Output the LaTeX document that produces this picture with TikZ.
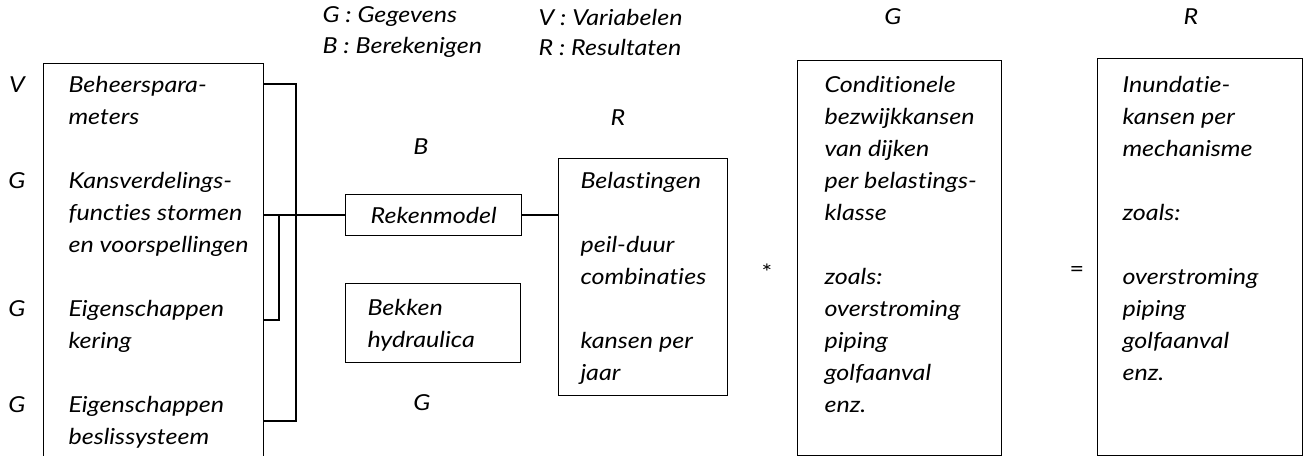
\documentclass[tikz,border=0pt]{standalone}
\usepackage{fontspec}
\setmainfont{Lato}[FakeStretch=1.14, Ligatures=NoCommon]
\tikzset{every picture/.style={line width=0.75pt}}
\tikzset{
  box/.style={draw, line width=1pt, inner sep=0pt, anchor=north west},
  bracket/.style={line width=2pt},
  txt/.style={anchor=north west, inner sep=0pt, align=left, font=\itshape\fontsize{16.5}{24}\selectfont},
  lbl/.style={inner sep=0pt, font=\itshape\fontsize{16.5}{24}\selectfont},
}
\begin{document}
\begin{tikzpicture}[x=0.75pt,y=0.75pt,yscale=-1,xscale=1]
	\useasboundingbox (0,0) rectangle (1304,456);

	% legend
	\node[lbl, anchor=west] (legG) at (322,17) {G : Gegevens};
	\node[lbl, anchor=west] (legB) at (322,47) {B : Berekenigen};
	\node[lbl, anchor=west] (legV) at (538,17) {V : Variabelen};
	\node[lbl, anchor=west] (legR) at (538,47) {R : Resultaten};

	% boxes
	\node[box, minimum width=165pt, minimum height=305.25pt] (params) at (43,63) {};
	\node[box, minimum width=132pt, minimum height=30.75pt, font=\itshape\fontsize{16.5}{24}\selectfont] (rekenmodel) at (345,194) {Rekenmodel};
	\node[box, minimum width=131.25pt, minimum height=59.25pt] (bekken) at (345,283) {};
	\node[box, minimum width=126.75pt, minimum height=177.75pt] (belast) at (558,158) {};
	\node[box, minimum width=153pt, minimum height=296.25pt] (cond) at (797,60) {};
	\node[box, minimum width=153.75pt, minimum height=297.75pt] (inund) at (1097,58) {};

	% box texts
	\node[txt] (tparams) at (68,69.6) {\strut Beheerspara-\\meters\\[24pt]Kansverdelings-\\functies stormen\\en voorspellingen\\[24pt]Eigenschappen\\kering\\[24pt]Eigenschappen\\beslissysteem};
	\node[txt] (tbekken) at (367,292.6) {\strut Bekken\\hydraulica};
	\node[txt] (tbelast) at (580,165.6) {\strut Belastingen\\[24pt]peil-duur\\combinaties\\[24pt]kansen per\\jaar};
	\node[txt] (tcond) at (824,69.6) {\strut Conditionele\\bezwijkkansen\\van dijken\\per belastings-\\klasse\\[24pt]zoals:\\overstroming\\piping\\golfaanval\\enz.};
	\node[txt] (tinund) at (1122,69.6) {\strut Inundatie-\\kansen per\\mechanisme\\[24pt]zoals:\\[24pt]overstroming\\piping\\golfaanval\\enz.};

	% type letters
	\node[lbl] (sV) at (17,85) {V};
	\node[lbl] (sG1) at (17,181) {G};
	\node[lbl] (sG2) at (17,309) {G};
	\node[lbl] (sG3) at (17,405) {G};
	\node[lbl] (sB) at (421,147) {B};
	\node[lbl] (sG4) at (422,403) {G};
	\node[lbl] (sR1) at (618,118) {R};
	\node[lbl] (sG5) at (893,17) {G};
	\node[lbl] (sR2) at (1191,17) {R};
	\node[lbl, font=\fontsize{16.5}{24}\selectfont] (times) at (767,272) {*};
	\node[lbl, font=\fontsize{16.5}{24}\selectfont] (equals) at (1077,272) {=};

	% connections
	\coordinate (bt) at (296,84);
	\coordinate (bb) at (296,421);
	\coordinate (bk) at (279,320);
	\draw[bracket] (params.east |- bt) -- (bt) -- (bb) -- (params.east |- bb);
	\draw[bracket] (params.east |- rekenmodel.west) -- (rekenmodel.west);
	\draw[bracket] (params.east |- bk) -- (bk) -- (bk |- rekenmodel.west);
	\draw[bracket] (rekenmodel.east) -- (belast.west |- rekenmodel.east);

\end{tikzpicture}
\end{document}
